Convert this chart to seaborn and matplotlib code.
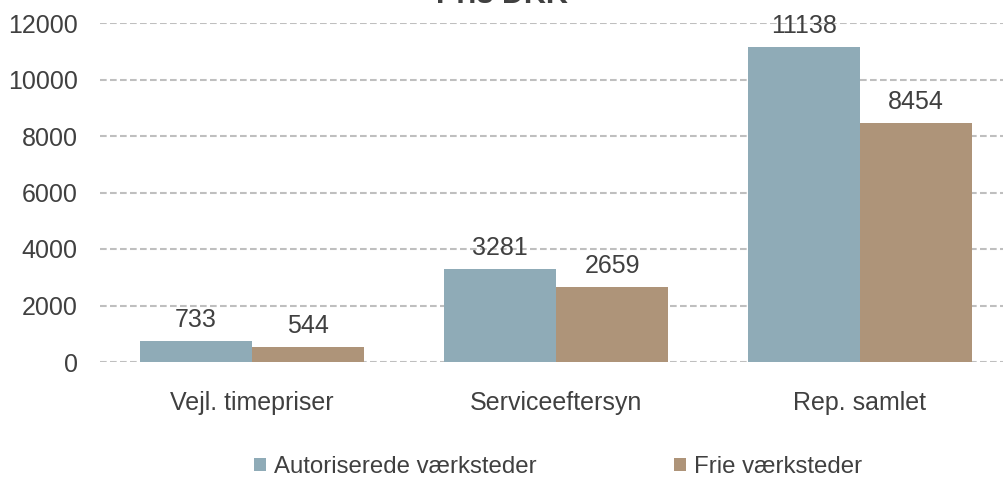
import pandas as pd
import matplotlib.pyplot as plt
import seaborn as sns

categories = ["Vejl. timepriser", "Serviceeftersyn", "Rep. samlet"]
autoriserede = [733, 3281, 11138]
frie = [544, 2659, 8454]
series_names = ["Autoriserede værksteder", "Frie værksteder"]
yticks = [0, 2000, 4000, 6000, 8000, 10000, 12000]

colors = ["#8FABB7", "#AE9479"]
text_color = "#404040"

df = pd.DataFrame({
    "kategori": categories * 2,
    "pris": autoriserede + frie,
    "serie": [series_names[0]] * 3 + [series_names[1]] * 3,
})

sns.set_theme(style="white")
plt.rcParams["font.family"] = ["Liberation Sans", "DejaVu Sans"]

fig = plt.figure(figsize=(10.04, 4.8), dpi=100)
ax = fig.add_axes([100 / 1004, 1 - 362 / 480, 912 / 1004, 339 / 480])

sns.barplot(data=df, x="kategori", y="pris", hue="serie", palette=colors,
            width=0.737, gap=0, saturation=1, linewidth=0, ax=ax, legend=True)

ax.set_ylim(0, 12000)
ax.set_xlim(-0.5, 2.5)
ax.set_yticks(yticks)
ax.set_yticklabels([str(v) for v in yticks])
ax.yaxis.grid(True, color="#BFBFBF", linestyle=(0, (3.2, 1.6)), linewidth=1.5)
ax.set_axisbelow(True)
for s in ax.spines.values():
    s.set_visible(False)
ax.tick_params(axis="y", length=0, pad=16, labelsize=18, labelcolor=text_color)
ax.tick_params(axis="x", length=0, pad=21, labelsize=18, labelcolor=text_color)
ax.set_xlabel("")
ax.set_ylabel("")

# verdier over søjlerne
for cont in ax.containers:
    for bar in cont:
        h = bar.get_height()
        ax.annotate(f"{h:.0f}", (bar.get_x() + bar.get_width() / 2, h),
                    xytext=(0, 10), textcoords="offset points",
                    ha="center", va="baseline", fontsize=18, color=text_color)

handles, labels = ax.get_legend_handles_labels()
ax.legend(handles, labels, loc="center", bbox_to_anchor=(558 / 1004, 1 - 467 / 480),
          bbox_transform=fig.transFigure, ncol=2, frameon=False, fontsize=17.3,
          handlelength=0.5, handleheight=0.5, handletextpad=0.33,
          columnspacing=5.7, labelcolor=text_color)

fig.text(0.5, 1 - 3 / 480, "Pris DKK", ha="center", va="baseline",
         fontsize=22, fontweight="bold", color=text_color)

fig.savefig("out.png", dpi=100)
